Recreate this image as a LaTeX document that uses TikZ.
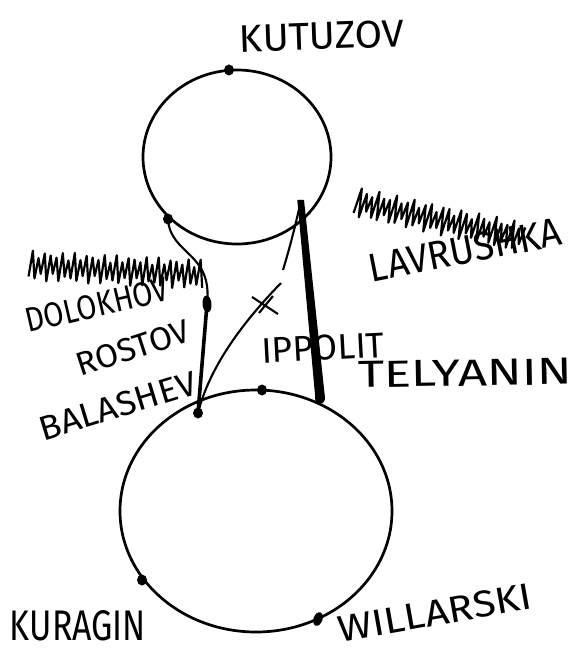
\documentclass[tikz,border=0pt]{standalone}
\usepackage{graphicx}
\usepackage{fontspec}
\setmainfont{Fira Sans}
\newcommand\hw[3]{\resizebox{#1}{#2}{#3}}
\usetikzlibrary{shapes.geometric}
\tikzset{
  ring/.style={line width=2.7pt},
  dotmark/.style={ellipse, fill=black, inner sep=0pt, minimum width=10pt, minimum height=11pt},
  longdot/.style={ellipse, fill=black, inner sep=0pt, minimum width=9pt, minimum height=17pt},
  lab/.style={inner sep=0pt, anchor=center},
  link/.style={line width=2.1pt},
  heavy/.style={line width=3.6pt},
  scrib/.style={line width=2.2pt, line join=round},
}
\begin{document}
\begin{tikzpicture}[x=1pt,y=-1pt]
\useasboundingbox (0,0) rectangle (579,652);
% rings
\draw[ring] (237,157) ellipse [x radius=94, y radius=87];
\draw[ring] (256,511) ellipse [x radius=136, y radius=121];
% dots
\node[dotmark] (kut) at (229,70) {};
\node[dotmark] (tl) at (168,219) {};
\node[longdot, rotate=5] (ml) at (207,304) {};
\node[dotmark] (bl) at (198,413) {};
\node[dotmark] (btop) at (262,390) {};
\node[dotmark] (kur) at (142,580) {};
\node[longdot, minimum height=14pt, rotate=-20] (wil) at (318,619) {};
\coordinate (tr) at (301,200);
\coordinate (br) at (320,398);
\coordinate (gapa) at (283,270);
\coordinate (gapb) at (281,283);
% connectors
\draw[link] (tl.center) .. controls (170,255) and (213,252) .. (ml.center);
\draw[heavy] (ml.center) -- (bl.center);
\fill ([xshift=-3pt]tr) -- ([xshift=3pt]tr) -- ([xshift=5pt]br) -- ([xshift=-4pt]br) -- cycle;
\draw[line width=1.4pt] ([xshift=-3pt]tr) -- ([xshift=-4pt]br);
\fill (br) ellipse [x radius=5, y radius=6];
\draw[link] (tr) .. controls (295,228) and (289,250) .. (gapa);
\draw[link] (gapb) .. controls (245,320) and (210,365) .. (bl.center);
% X mark
\draw[link] (252,297) -- (278,314);
\draw[link] (259,313) -- (273,296);
% scribbles
\begin{scope}[shift={(116,270)}, rotate=-3]
\draw[scrib] plot[domain=0:58, samples=59] ({-87+\x*3}, {(11+4*sin(\x*77))*cos(\x*180)});
\end{scope}
\begin{scope}[shift={(440,220)}, rotate=-12]
\draw[scrib] plot[domain=0:57, samples=58] ({-86+\x*3}, {(11+4*sin(\x*63))*cos(\x*180)});
\end{scope}
% labels
\node[lab, rotate=2] (tkut) at (322,36) {\hw{165pt}{27pt}{KUTUZOV}};
\node[lab, rotate=11] (tlav) at (465,250) {\hw{195pt}{28pt}{LAVRUSHKA}};
\node[lab, rotate=13] (tdol) at (97,305) {\hw{146pt}{24pt}{DOLOKHOV}};
\node[lab, rotate=18] (tros) at (133,348) {\hw{118pt}{23pt}{ROSTOV}};
\node[lab, rotate=17] (tbal) at (118,406) {\hw{163pt}{24pt}{BALASHEV}};
\node[lab, rotate=3] (tipp) at (323,348) {\hw{123pt}{25pt}{IPPOLIT}};
\node[lab, rotate=1] (ttel) at (465,373) {\hw{214pt}{26pt}{TELYANIN}};
\node[lab] (tkur) at (78,626) {\hw{136pt}{30pt}{KURAGIN}};
\node[lab, rotate=10] (twil) at (435,613) {\hw{196pt}{26pt}{WILLARSKI}};
\end{tikzpicture}
\end{document}
